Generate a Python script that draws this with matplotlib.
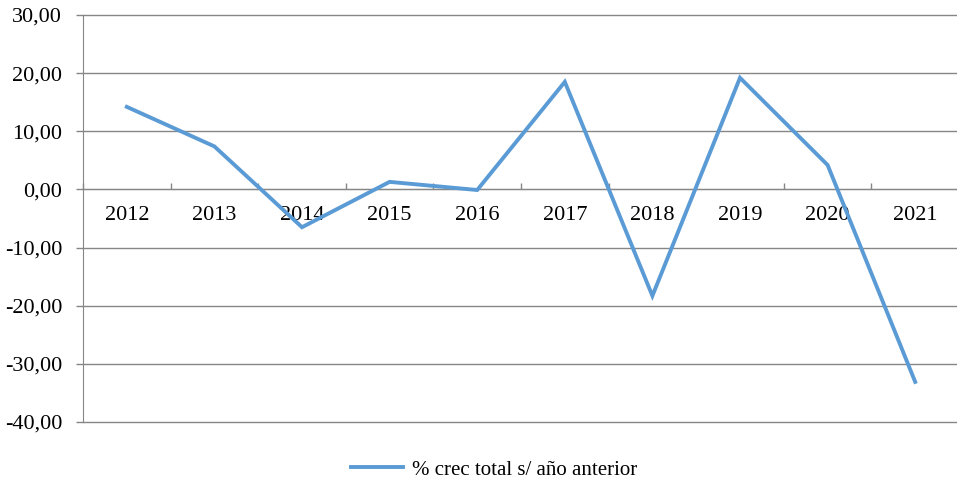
import matplotlib
matplotlib.use("Agg")
import matplotlib.pyplot as plt
from matplotlib.ticker import FixedLocator, FuncFormatter
import numpy as np

years = ["2012", "2013", "2014", "2015", "2016", "2017", "2018", "2019", "2020", "2021"]
growth = [14.2, 7.4, -6.5, 1.3, -0.1, 18.5, -18.3, 19.2, 4.2, -33.1]
series_name = "% crec total s/ año anterior"
y_ticks = [-40, -30, -20, -10, 0, 10, 20, 30]

plt.rcParams['font.family'] = ['Liberation Serif', 'DejaVu Serif']
plt.rcParams['axes.unicode_minus'] = False
grey = "#868686"

fig = plt.figure(figsize=(9.57, 4.84), dpi=100)
ax = fig.add_axes([83/957, 1-422/484, (959-83)/957, (422-15)/484])

x = np.arange(len(years))
ax.plot(x, growth, color="#5B9BD5", linewidth=2.8, label=series_name, zorder=4,
        solid_joinstyle='miter', clip_on=False)

ax.set_xlim(-0.5, len(years)-0.5)
ax.set_ylim(min(y_ticks), max(y_ticks))
ax.set_yticks(y_ticks)
ax.yaxis.set_major_formatter(FuncFormatter(lambda v, p: f"{v:.2f}".replace(".", ",")))
ax.yaxis.grid(True, color=grey, linewidth=1)
for gl in ax.get_ygridlines():
    gl.set_clip_on(False)
ax.set_axisbelow(True)

for s in ["top", "right"]:
    ax.spines[s].set_visible(False)
ax.spines["left"].set_color(grey)
ax.spines["bottom"].set_position(("data", 0))
ax.spines["bottom"].set_color(grey)

ax.set_xticks(x)
ax.set_xticklabels(years)
ax.xaxis.set_minor_locator(FixedLocator(np.arange(-0.5, len(years), 1.0)))
ax.tick_params(axis="x", which="major", length=0, pad=12, labelsize=16)
ax.tick_params(axis="x", which="minor", direction="in", length=4, color=grey, width=1)
ax.tick_params(axis="y", which="major", length=5, color=grey, width=1, pad=10, labelsize=16)

fig.legend(loc="center", bbox_to_anchor=(494/957, 1-470/484), frameon=False,
           fontsize=15, handlelength=2.5, handletextpad=0.4)

fig.savefig("out.png", dpi=100)
